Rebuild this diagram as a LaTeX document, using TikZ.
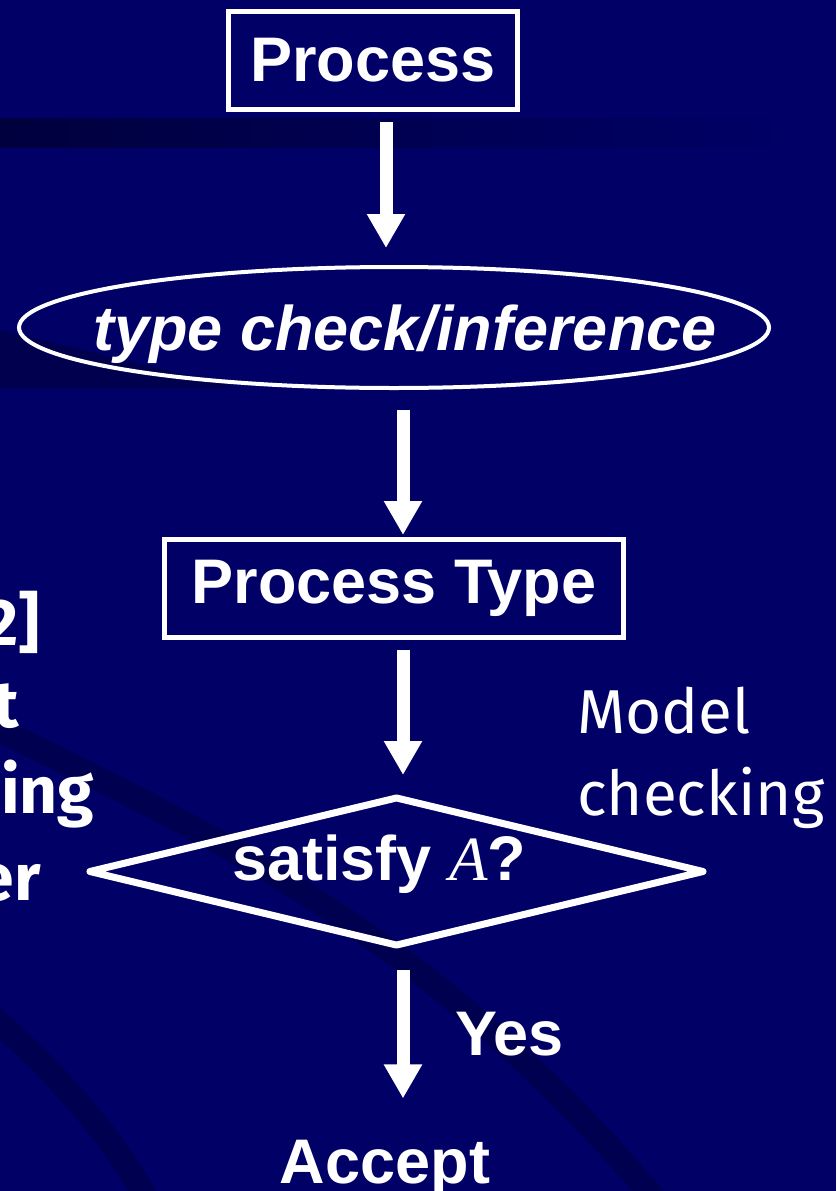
\documentclass[tikz,border=0pt]{standalone}
\usepackage{fontspec}
\setmainfont{Liberation Sans}
\newfontfamily\mathserif{Liberation Serif}
\newfontfamily\handfont{Fira Sans}
\usetikzlibrary{shapes.geometric,arrows.meta,calc}
\definecolor{navy}{RGB}{0,0,102}
\definecolor{navydark}{RGB}{0,0,62}

\begin{document}
\begin{tikzpicture}[x=1pt,y=-1pt,
  bigtext/.style={font=\fontsize{63}{70}\selectfont\bfseries, text=white, inner sep=0pt},
  handtext/.style={font=\fontsize{62}{72}\selectfont\handfont, text=white, inner sep=0pt},
  handbold/.style={font=\fontsize{66}{76}\selectfont\handfont\bfseries, text=white, inner sep=0pt},
  boxnode/.style={draw=white, line width=5pt, rectangle, inner sep=0pt},
  arr/.style={draw=white, line width=13pt, -{Triangle[width=36pt,length=34pt]}},
  band/.style={draw=navydark, line width=24pt, opacity=0.5}
]
% background and streaks
\fill[navy] (0,0) rectangle (836,1191);
\useasboundingbox (0,0) rectangle (836,1191);
\shade[left color=navydark, right color=navy] (0,118) rectangle (800,147);
\fill[navydark, opacity=0.6] (0,330) -- (240,388) -- (0,388) -- cycle;
\draw[band] (-10,725) .. controls (200,830) and (430,930) .. (660,1205);
\draw[band] (-10,1015) .. controls (60,1075) and (115,1140) .. (150,1205);

% partly visible column on the left
\node[handbold, anchor=base east] (l1) at (40,645) {02]};
\node[handbold, anchor=base east] (l2) at (19,727) {t};
\node[handbold, anchor=base west] (l3) at (1,813) {ing};
\node[handbold, anchor=base east] (l4) at (41,900) {er};

% flow chart
\node[boxnode, bigtext, minimum width=289pt, minimum height=98pt] (proc) at (373,60.5) {Process};
\node[draw=white, line width=4pt, ellipse, inner sep=0pt, minimum width=750pt, minimum height=121pt] (tc) at (394,327.5) {};
\node[bigtext, anchor=base] (tctext) at (405,350) {\itshape type check/inference};
\node[boxnode, bigtext, minimum width=459pt, minimum height=98pt] (pt) at (394,588.5) {Process Type};
\node[draw=white, line width=7pt, line join=round, diamond, inner sep=0pt, minimum width=616pt, minimum height=150pt] (dia) at (396.5,871.5) {};
\node[bigtext, anchor=base west] (diatext) at (232,880) {satisfy {\mathserif\mdseries\itshape A}?};
\node[bigtext, anchor=base] (acc) at (385,1183) {Accept};

\node[handtext, anchor=base west] (mc1) at (577,733) {Model};
\node[handtext, anchor=base west] (mc2) at (577,815) {checking};

\draw[arr] ([xshift=13pt,yshift=-10pt]proc.south) -- ([xshift=-8pt,yshift=17pt]tc.north);
\draw[arr] ([xshift=9pt,yshift=-20pt]tc.south) -- ([xshift=9pt,yshift=2pt]pt.north);
\draw[arr] ([xshift=9pt,yshift=-10pt]pt.south) -- ([xshift=6.5pt,yshift=18pt]dia.north);
\draw[arr] ([xshift=6.5pt,yshift=-20pt]dia.south) -- ([xshift=18pt,yshift=41pt]acc.north);
\node[bigtext, anchor=base west] (yes) at (455,1055) {Yes};
\end{tikzpicture}
\end{document}
